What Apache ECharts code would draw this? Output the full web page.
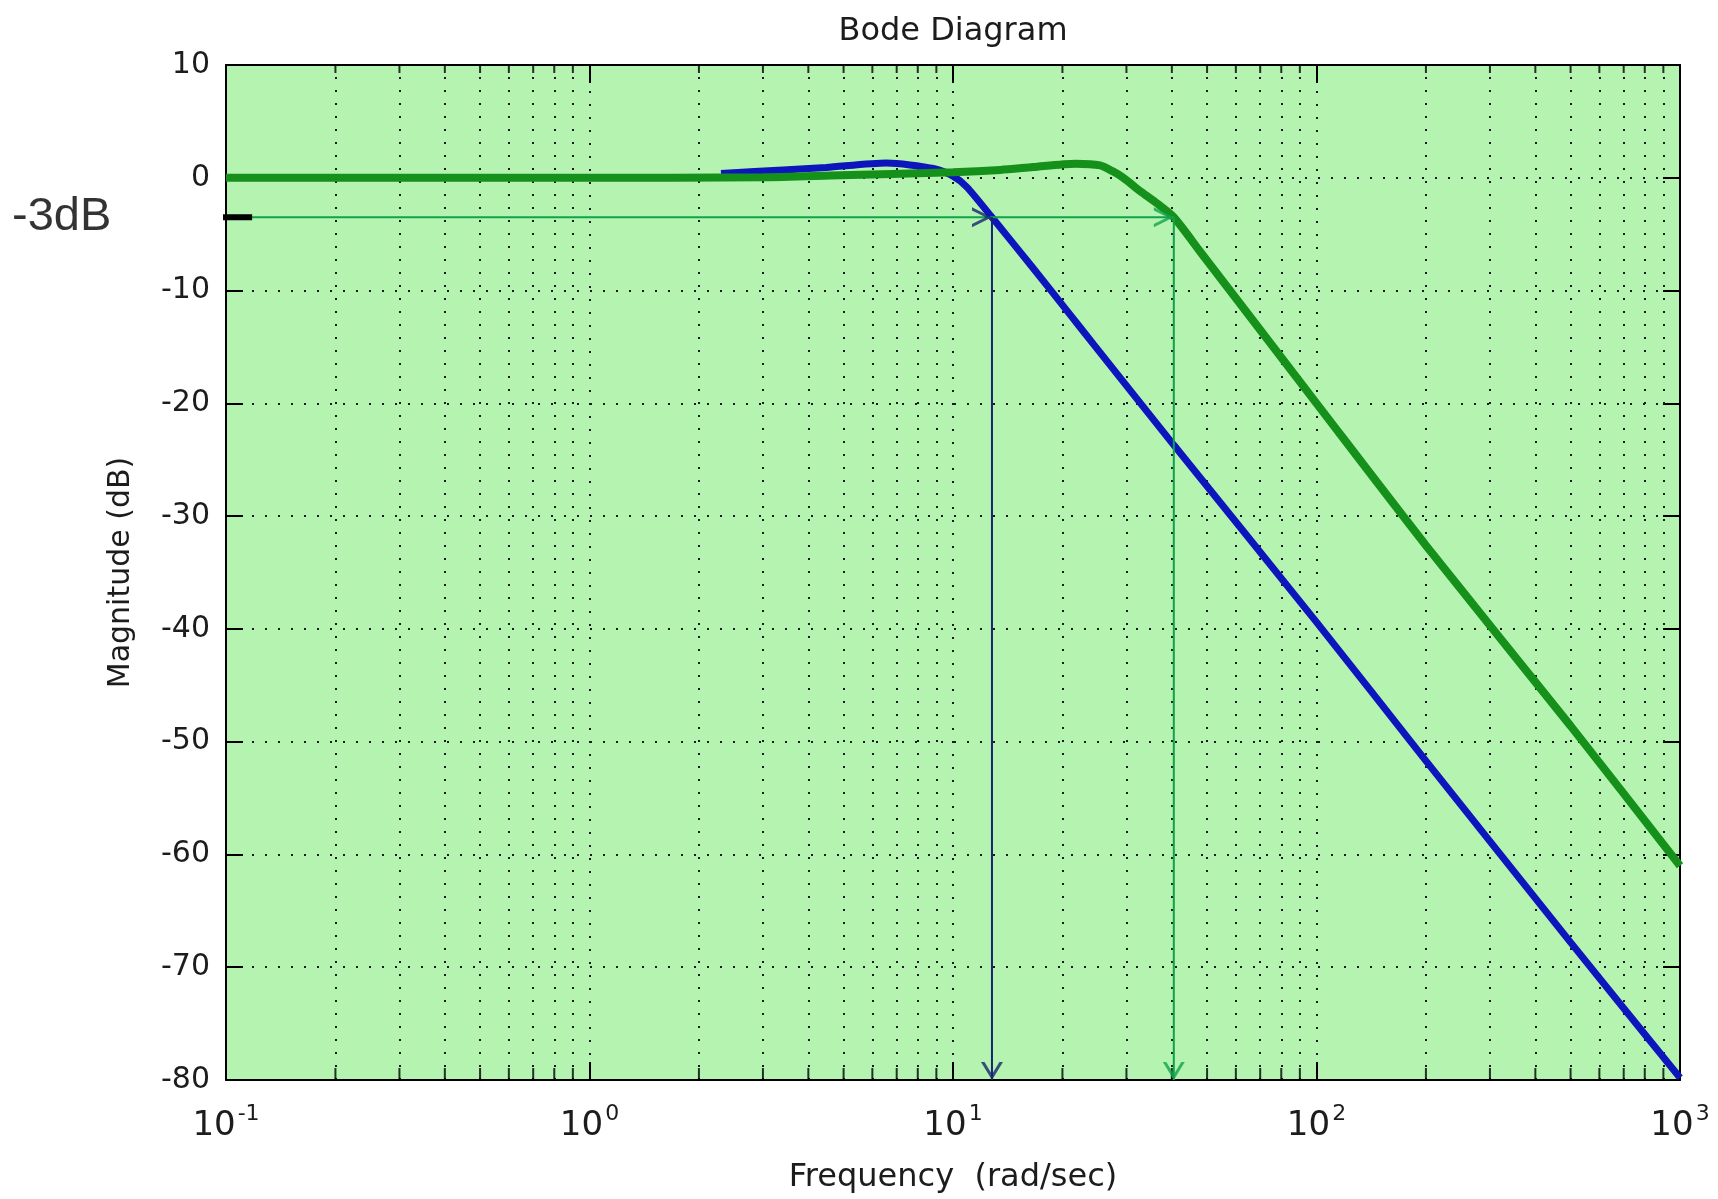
<!DOCTYPE html>
<html><head><meta charset="utf-8">
<script src="https://cdn.jsdelivr.net/npm/echarts@6/dist/echarts.min.js"></script>
<style>html,body{margin:0;padding:0;background:#fff;}#c{width:1718px;height:1199px;}</style>
</head><body><div id="c"></div>
<script>
const titleText = 'Bode Diagram';
const xName = 'Frequency  (rad/sec)';
const yName = 'Magnitude (dB)';
const decadeExponents = ['-1', '0', '1', '2', '3'];
const minorFreqs = [0.2,0.3,0.4,0.5,0.6,0.7,0.8,0.9, 2,3,4,5,6,7,8,9, 20,30,40,50,60,70,80,90, 200,300,400,500,600,700,800,900];

const greenFreq = [0.1, 1, 3, 4.6, 10, 13.5, 16.6, 21.7, 25.4, 27.6, 29.4, 32.8, 36.5, 40.5, 48, 100, 200, 500, 1000];
const greenMag  = [0, 0, 0.05, 0.2, 0.5, 0.7, 0.95, 1.25, 1.1, 0.55, 0, -1.2, -2.3, -3.5, -6.6, -20, -32.6, -48.6, -61];

const blueFreq = [2.3, 3.41, 4.48, 6.56, 8.83, 10, 10.9, 12.8, 16.6, 20.6, 24.4, 40.5, 100, 200, 500, 1000];
const blueMag  = [0.38, 0.69, 0.91, 1.31, 0.82, 0.15, -0.8, -3.5, -8.0, -11.8, -14.8, -23.7, -39.4, -51.7, -67.8, -79.8];

const cutoffLabel = '-3dB';
const cutoffLevel = -3.5;
const blueCutoffFreq = 12.8;
const greenCutoffFreq = 40.5;
const cutoffLineStartFreq = 0.0372;
const cutoffLabelFreq = 0.0353;
const cutoffMarkFreqs = [0.0975, 0.118];

const Y_MIN = -80, Y_MAX = 10;
const FONT = 'DejaVu Sans';
const TXT = '#1c1c1c';
const GREEN_ANN = '#11a24c';
const NAVY_ANN = '#18246f';
const ARROW_RIGHT = 'path://M0,0 L100,50 L0,100 L0,84 L68,50 L0,16 Z';
const ARROW_DOWN = 'path://M0,0 L50,100 L100,0 L84,0 L50,68 L16,0 Z';

const zip = (a, b) => a.map((v, i) => [v, b[i]]);
const dotted = { color: '#1a1a1a', width: 2, type: [2, 11] };
const frameLine = { show: true, onZero: false, lineStyle: { color: '#000', width: 2 } };

const chart = echarts.init(document.getElementById('c'), null, { renderer: 'canvas' });
chart.setOption({
  animation: false,
  backgroundColor: '#ffffff',
  title: {
    text: titleText, left: 948, top: 11, textAlign: 'center',
    textStyle: { fontFamily: FONT, fontSize: 32, fontWeight: 'normal', color: TXT }
  },
  grid: { left: 226, right: 38, top: 65, bottom: 119, containLabel: false, outerBoundsMode: 'none',
    show: true, backgroundColor: '#b4f3b0', borderWidth: 0 },
  xAxis: [{
    type: 'log', logBase: 10, min: 0.1, max: 1000, position: 'bottom',
    name: xName, nameLocation: 'middle', nameGap: 82, nameMoveOverlap: false,
    nameTextStyle: { fontFamily: FONT, fontSize: 32, color: TXT },
    axisLine: frameLine,
    axisTick: { show: true, inside: true, length: 18, lineStyle: { color: '#000', width: 2 } },
    axisLabel: {
      margin: 23,
      formatter: v => '{b|10}{s|' + decadeExponents[Math.round(Math.log10(v)) + 1] + '}',
      rich: {
        b: { fontFamily: FONT, fontSize: 34, color: TXT, verticalAlign: 'bottom', lineHeight: 40 },
        s: { fontFamily: FONT, fontSize: 22, color: TXT, verticalAlign: 'top', lineHeight: 40, padding: [0, 0, 0, 2] }
      }
    },
    splitLine: { show: true, lineStyle: dotted }
  }, {
    type: 'log', logBase: 10, min: 0.1, max: 1000, position: 'top',
    axisLine: frameLine,
    axisTick: { show: true, inside: true, length: 18, lineStyle: { color: '#000', width: 2 } },
    axisLabel: { show: false }, splitLine: { show: false }
  }],
  yAxis: [{
    type: 'value', min: Y_MIN, max: Y_MAX, interval: 10, position: 'left',
    name: yName, nameLocation: 'middle', nameGap: 90,
    nameTextStyle: { fontFamily: FONT, fontSize: 30, color: TXT },
    axisLine: frameLine,
    axisTick: { show: true, inside: true, length: 17, lineStyle: { color: '#000', width: 2 } },
    axisLabel: { margin: 16, fontFamily: FONT, fontSize: 30, color: TXT },
    splitLine: { show: true, lineStyle: dotted }
  }, {
    type: 'value', min: Y_MIN, max: Y_MAX, interval: 10, position: 'right',
    axisLine: frameLine,
    axisTick: { show: true, inside: true, length: 17, lineStyle: { color: '#000', width: 2 } },
    axisLabel: { show: false }, splitLine: { show: false }
  }],
  series: [
    { // minor grid lines and minor ticks
      type: 'scatter', silent: true, clip: false, z: 1,
      data: [].concat(
        minorFreqs.map(f => ({ value: [f, Y_MIN], symbol: 'rect', symbolSize: [2, 12], symbolOffset: [0, -6] })),
        minorFreqs.map(f => ({ value: [f, Y_MAX], symbol: 'rect', symbolSize: [2, 8], symbolOffset: [0, 4] }))
      ),
      itemStyle: { color: '#000' },
      markLine: {
        silent: true, z: 1, symbol: ['none', 'none'], label: { show: false },
        lineStyle: dotted, emphasis: { disabled: true },
        data: minorFreqs.map(f => ({ xAxis: f }))
      }
    },
    { type: 'line', name: 'blue', data: zip(blueFreq, blueMag), symbol: 'none', smooth: 0.25, z: 3,
      lineStyle: { color: '#0c16bc', width: 7 } },
    { type: 'line', name: 'green', data: zip(greenFreq, greenMag), symbol: 'none', smooth: 0.25, z: 4,
      lineStyle: { color: '#15901a', width: 8 } },
    { type: 'line', data: [[cutoffLineStartFreq, cutoffLevel], [greenCutoffFreq, cutoffLevel]], symbol: 'none', clip: false, z: 6,
      lineStyle: { color: GREEN_ANN, width: 2 } },
    { type: 'line', data: [[blueCutoffFreq, cutoffLevel], [blueCutoffFreq, Y_MIN]], symbol: 'none', clip: false, z: 6,
      lineStyle: { color: NAVY_ANN, width: 2 } },
    { type: 'line', data: [[greenCutoffFreq, cutoffLevel], [greenCutoffFreq, Y_MIN]], symbol: 'none', clip: false, z: 6,
      lineStyle: { color: GREEN_ANN, width: 2 } },
    { type: 'line', data: [[cutoffMarkFreqs[0], cutoffLevel], [cutoffMarkFreqs[1], cutoffLevel]], symbol: 'none', clip: false, z: 7,
      lineStyle: { color: '#000', width: 6 } },
    { type: 'scatter', clip: false, z: 7, silent: true,
      data: [
        { value: [blueCutoffFreq, cutoffLevel], symbol: ARROW_RIGHT, symbolSize: [20, 20], symbolOffset: [-10, 0], itemStyle: { color: NAVY_ANN } },
        { value: [greenCutoffFreq, cutoffLevel], symbol: ARROW_RIGHT, symbolSize: [20, 20], symbolOffset: [-10, 0], itemStyle: { color: GREEN_ANN } },
        { value: [blueCutoffFreq, Y_MIN], symbol: ARROW_DOWN, symbolSize: [22, 18], symbolOffset: [0, -9], itemStyle: { color: NAVY_ANN } },
        { value: [greenCutoffFreq, Y_MIN], symbol: ARROW_DOWN, symbolSize: [22, 18], symbolOffset: [0, -9], itemStyle: { color: GREEN_ANN } }
      ] },
    { type: 'scatter', clip: false, z: 8, silent: true,
      data: [[cutoffLabelFreq, cutoffLevel]], symbolSize: 1, itemStyle: { color: 'rgba(0,0,0,0)' },
      label: { show: true, position: 'inside', offset: [0, 0], formatter: cutoffLabel,
        fontFamily: 'Liberation Sans', fontSize: 47, color: '#000' } }
  ]
});
</script></body></html>
